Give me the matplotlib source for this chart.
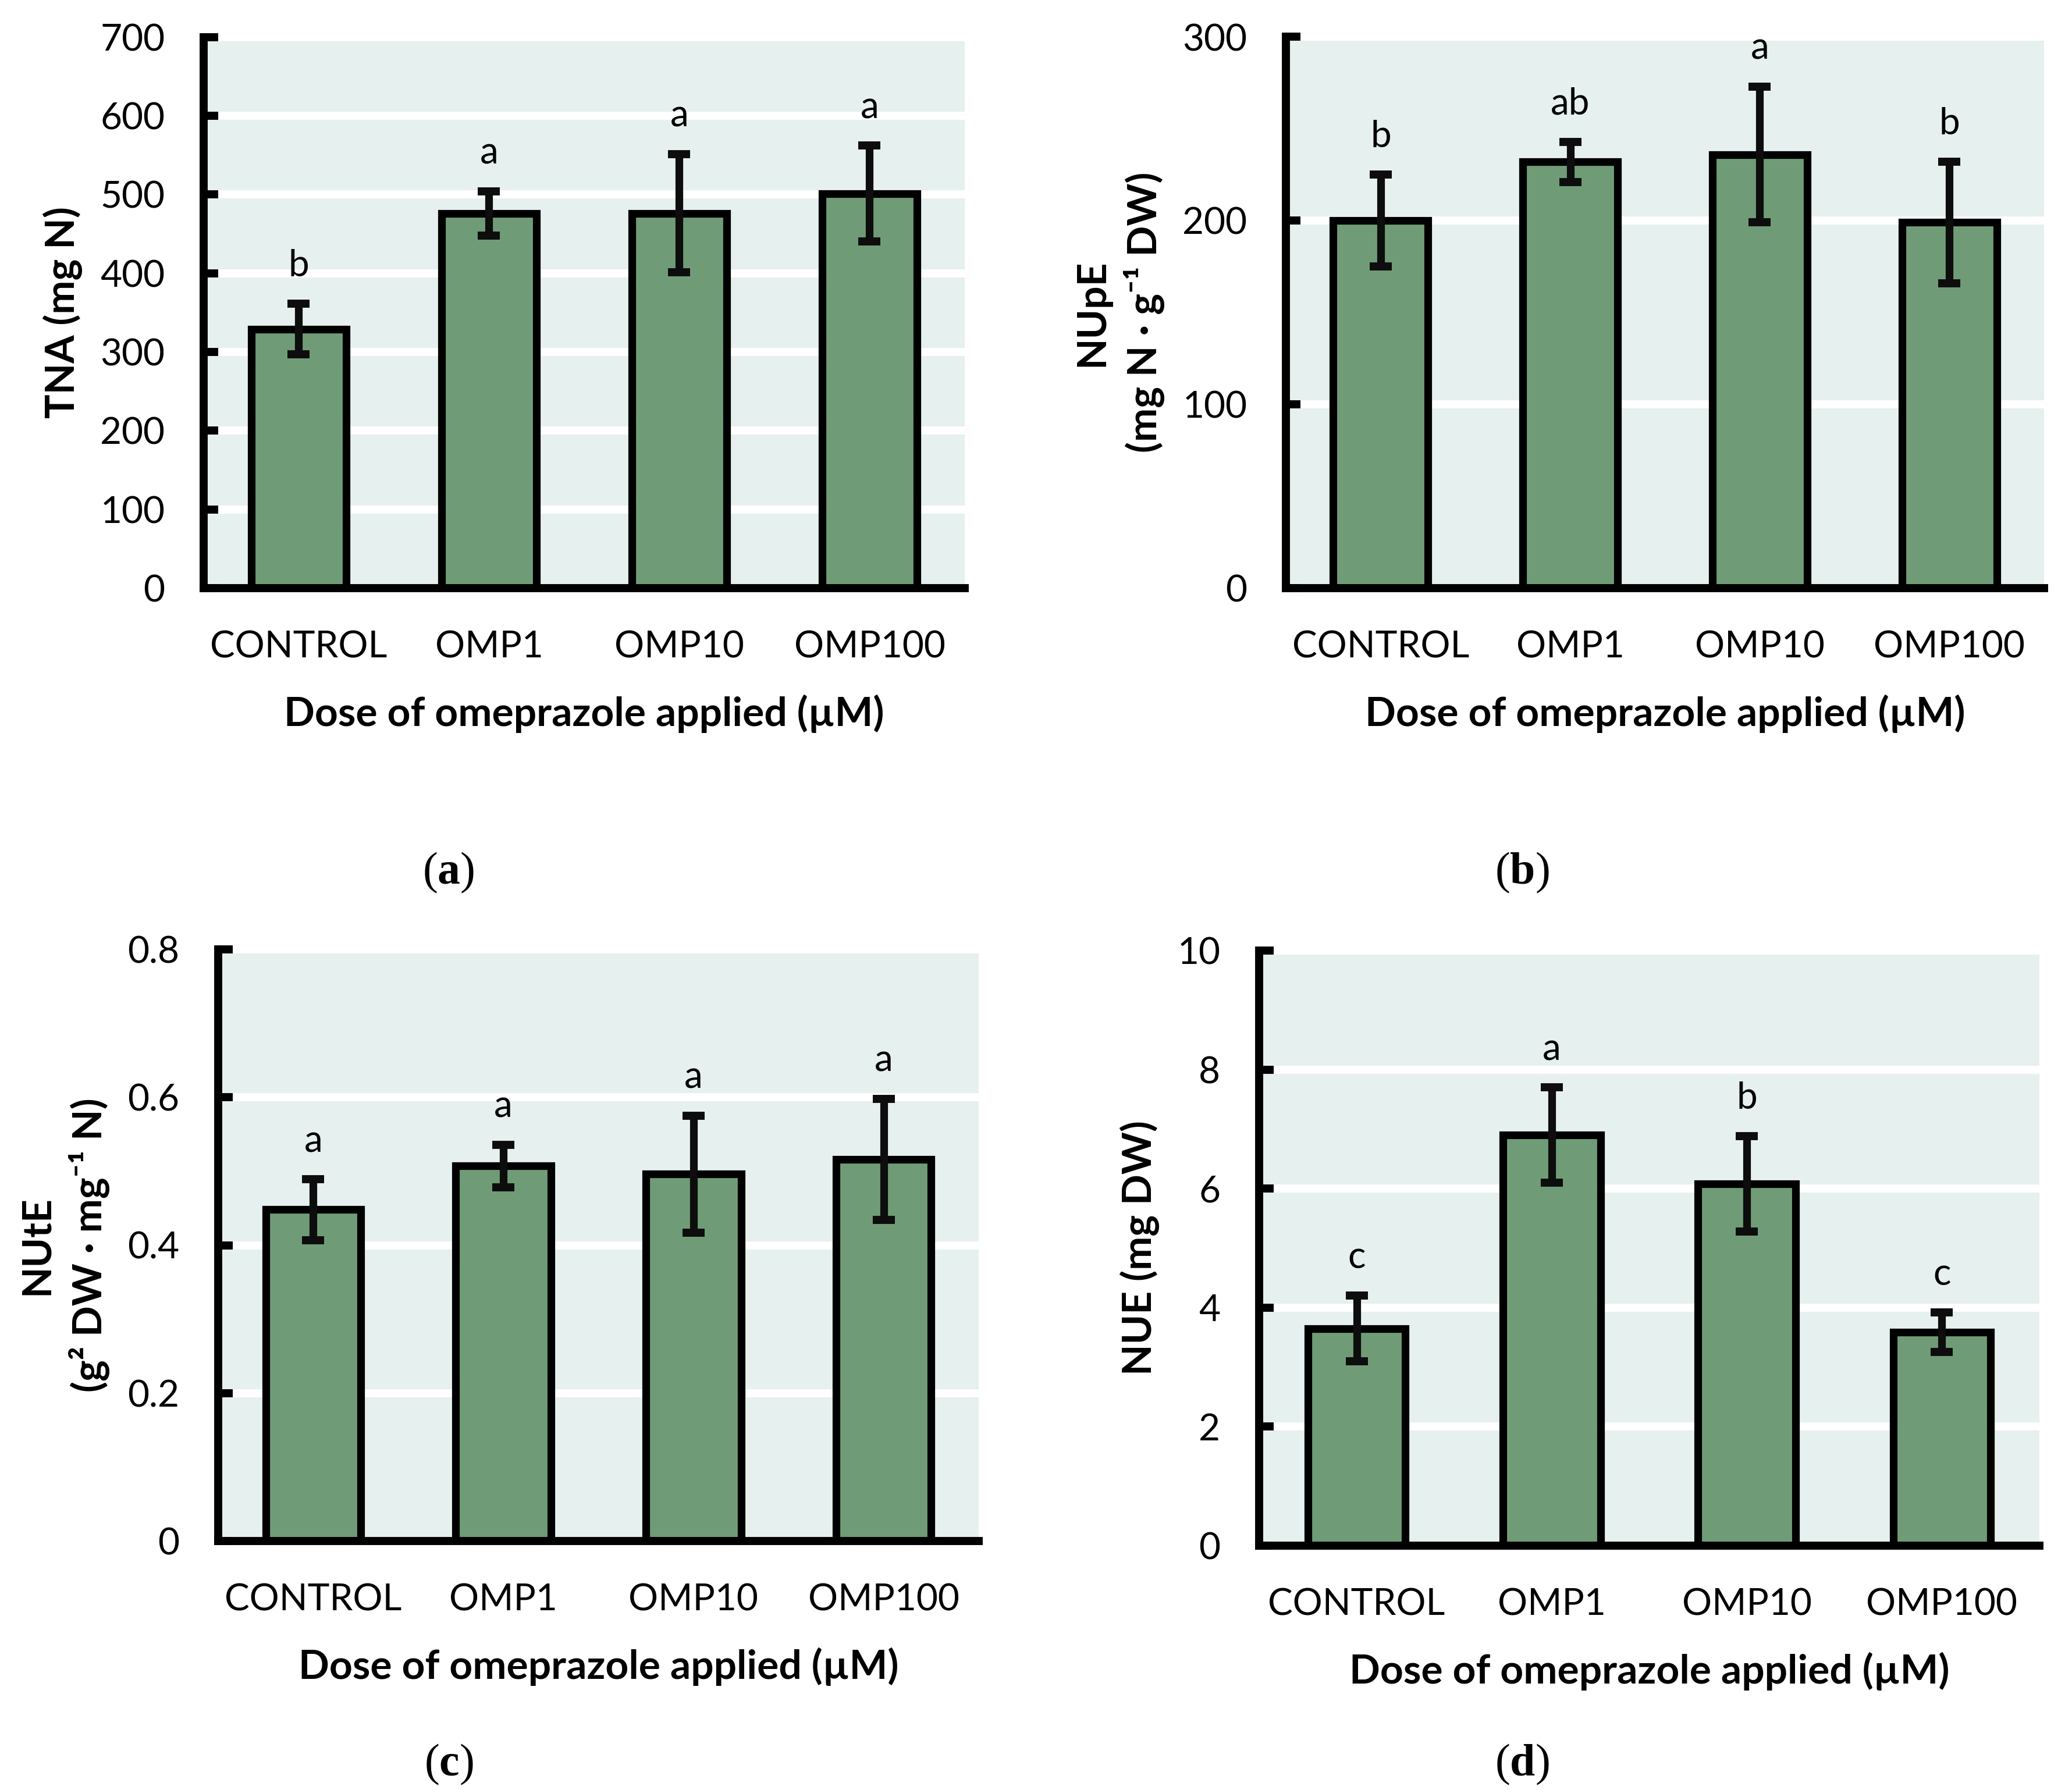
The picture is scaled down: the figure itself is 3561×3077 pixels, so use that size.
import matplotlib
matplotlib.use('Agg')
import matplotlib.pyplot as plt
from matplotlib.ticker import FuncFormatter

plt.rcParams['font.family'] = ['Lato', 'DejaVu Sans']
plt.rcParams['mathtext.fontset'] = 'custom'
plt.rcParams['mathtext.rm'] = 'Liberation Serif'
plt.rcParams['mathtext.bf'] = 'Liberation Serif:bold'

doses = ['CONTROL', 'OMP1', 'OMP10', 'OMP100']
x_title = 'Dose of omeprazole applied (µM)'

# TNA (mg N)
tna_mean = [329, 476, 476, 501]
tna_err = [32, 28, 75, 61]
tna_letters = ['b', 'a', 'a', 'a']

# NUpE
nupe_mean = [200, 232, 236, 199]
nupe_err = [25, 11, 37, 33]
nupe_letters = ['b', 'ab', 'a', 'b']

# NUtE
nute_mean = [0.448, 0.507, 0.496, 0.516]
nute_err = [0.041, 0.029, 0.079, 0.082]
nute_letters = ['a', 'a', 'a', 'a']

# NUE (mg DW)
nue_mean = [3.65, 6.90, 6.08, 3.59]
nue_err = [0.55, 0.80, 0.80, 0.33]
nue_letters = ['c', 'a', 'b', 'c']

bar_color = '#6F9C77'
bg_color = '#E5F0EF'

W, H = 3562, 3077
fig = plt.figure(figsize=(W / 100, H / 100), dpi=100)


def px_rect(l, r, t, b):
    return [l / W, 1 - b / H, (r - l) / W, (b - t) / H]


def panel(rect, means, errs, letters, ylabel, ymax, ystep, tag, tag_xy):
    ax = fig.add_axes(rect)
    ax.set_facecolor(bg_color)
    x = range(len(doses))
    ax.bar(x, means, width=0.5, color=bar_color, edgecolor='black',
           linewidth=9.5, zorder=3)
    ax.errorbar(x, means, yerr=errs, fmt='none', ecolor='#0D0D0D',
                elinewidth=9.5, capsize=13.5, capthick=10, zorder=4)
    for xi, m, e, lab in zip(x, means, errs, letters):
        ax.annotate(lab, (xi, m + e), xytext=(0, 34), textcoords='offset points',
                    ha='center', va='baseline', fontsize=46)
    ax.set_xlim(-0.5, len(doses) - 0.5)
    ax.set_ylim(0, ymax)
    yt = [i * ystep for i in range(int(round(ymax / ystep)) + 1)]
    ax.set_yticks(yt)
    ax.yaxis.set_major_formatter(FuncFormatter(lambda v, p: f'{v:g}'))
    ax.set_xticks(list(x))
    ax.set_xticklabels(doses)
    ax.grid(axis='y', color='white', linewidth=10, zorder=1)
    ax.set_axisbelow(True)
    for s in ['top', 'right']:
        ax.spines[s].set_visible(False)
    for s in ['left', 'bottom']:
        ax.spines[s].set_linewidth(10)
        ax.spines[s].set_zorder(5)
    ax.tick_params(axis='y', direction='in', length=18, width=10, pad=48,
                   labelsize=46)
    ax.tick_params(axis='x', length=0, pad=52, labelsize=46)
    ax.set_ylabel(ylabel, fontsize=50, fontweight='bold', labelpad=22,
                  linespacing=1.4)
    ax.set_xlabel(x_title, fontsize=50, fontweight='bold', labelpad=38)
    fig.text(tag_xy[0] / W, 1 - tag_xy[1] / H, '($\\mathbf{' + tag + '}$)',
             fontsize=56, family='Liberation Serif', ha='center', va='center')
    return ax


panel(px_rect(350, 1658, 63.5, 1011), tna_mean, tna_err, tna_letters,
      'TNA (mg N)', 700, 100, 'a', (771, 1500))
panel(px_rect(2210, 3513, 63.5, 1011), nupe_mean, nupe_err, nupe_letters,
      'NUpE\n(mg N · g⁻¹ DW)', 300, 100, 'b', (2616, 1500))
panel(px_rect(375, 1682, 1632, 2649), nute_mean, nute_err, nute_letters,
      'NUtE\n(g² DW · mg⁻¹ N)', 0.8, 0.2, 'c', (771, 3033))
panel(px_rect(2164, 3505, 1634, 2657), nue_mean, nue_err, nue_letters,
      'NUE (mg DW)', 10, 2, 'd', (2616, 3033))

fig.savefig('out.png', dpi=100)
